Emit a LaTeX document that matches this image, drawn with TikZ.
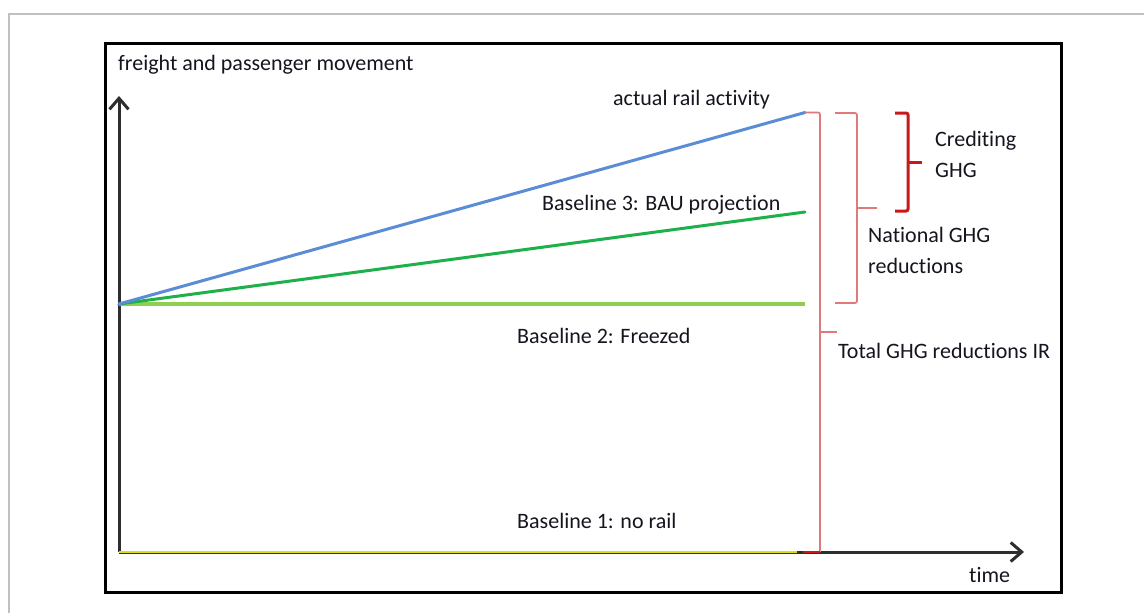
\documentclass[tikz,border=0pt]{standalone}
\usepackage{fontspec}
\setmainfont[Ligatures=NoCommon]{Carlito}
\usetikzlibrary{arrows.meta}
\definecolor{framegray}{HTML}{C0C0C0}
\definecolor{axisgray}{HTML}{2E2E2E}
\definecolor{txt}{HTML}{15151F}
\definecolor{actualblue}{HTML}{5B8DD6}
\definecolor{bauGreen}{HTML}{1EB04A}
\definecolor{freezeGreen}{HTML}{8ED04E}
\definecolor{norailYellow}{HTML}{DCDC10}
\definecolor{braceLight}{HTML}{E07A7A}
\definecolor{braceDark}{HTML}{C81818}
\tikzset{
  lbl/.style={anchor=base west, inner sep=0pt, text=txt, font=\fontsize{22}{26}\selectfont},
  axisline/.style={draw=axisgray, line width=3pt, -{Straight Barb[length=11pt,width=19pt,line width=3pt]}},
  series/.style={line width=3pt, line cap=round},
  thinbrace/.style={draw=braceLight, line width=1.7pt, rounded corners=2pt},
  boldbrace/.style={draw=braceDark, line width=3pt, rounded corners=2pt}
}
\begin{document}
\begin{tikzpicture}[x=1pt, y=-1pt]
\useasboundingbox (0,0) rectangle (1144,613);
\fill[white] (0,0) rectangle (1144,613);
% page frame and chart frame
\draw[framegray, line width=2pt] (9,613) -- (9,14) -- (1144,14);
\draw[black, line width=3pt] (105,43.5) rectangle (1061.5,592);

% key points
\coordinate (O) at (119,552);
\coordinate (start) at (119,304);
\coordinate (ytop) at (119,96);
\coordinate (xend) at (1024,552);
\coordinate (actualEnd) at (805,112.5);
\coordinate (bauEnd) at (805,212);
\coordinate (freezeEnd) at (805,304);
\coordinate (norailEnd) at (797,552);

% axes
\draw[axisline] (O) -- (ytop);
\draw[axisline] (O) -- (xend);

% series
\draw[series, norailYellow, line width=2.4pt, line cap=butt] (O) -- (norailEnd);
\draw[series, freezeGreen, line width=3.4pt, line cap=butt] (start) -- (freezeEnd);
\draw[series, bauGreen] (start) -- (bauEnd);
\draw[series, actualblue] (start) -- (actualEnd);

% braces
\coordinate (totTop) at (820,112.5);
\coordinate (totBot) at (820,552);
\coordinate (totMid) at (820,332);
\coordinate (totTip) at (837,332);
\draw[thinbrace] (actualEnd) -- (totTop) -- (totBot);
\draw[braceDark, line width=2.4pt] (803,552) -- (totBot);
\draw[thinbrace] (totMid) -- (totTip);

\coordinate (natTL) at (835,113);
\coordinate (natTR) at (857,113);
\coordinate (natBR) at (857,303);
\coordinate (natBL) at (835,303);
\coordinate (natMid) at (857,208);
\coordinate (natTip) at (877,208);
\draw[thinbrace] (natTL) -- (natTR) -- (natBR) -- (natBL);
\draw[thinbrace] (natMid) -- (natTip);

\coordinate (crTL) at (895,113);
\coordinate (crTR) at (908,113);
\coordinate (crBR) at (908,211);
\coordinate (crBL) at (895,211);
\coordinate (crMid) at (908,162);
\coordinate (crTip) at (922,162);
\draw[boldbrace] (crTL) -- (crTR) -- (crBR) -- (crBL);
\draw[boldbrace] (crMid) -- (crTip);

% labels
\node[lbl] (yl) at (118,70) {freight and passenger movement};
\node[lbl] (xl) at (969,582) {time};
\node[lbl] (la) at (613,105) {actual rail activity};
\node[lbl] (l3) at (542,210) {Baseline 3: BAU projection};
\node[lbl] (l2) at (517,343) {Baseline 2: Freezed};
\node[lbl] (l1) at (517,528) {Baseline 1: no rail};
\node[lbl] (c1) at (935,146) {Crediting};
\node[lbl] (c2) at (935,177) {GHG};
\node[lbl] (n1) at (868,242) {National GHG};
\node[lbl] (n2) at (868,273) {reductions};
\node[lbl] (tl) at (838,358) {Total GHG reductions IR};
\end{tikzpicture}
\end{document}
